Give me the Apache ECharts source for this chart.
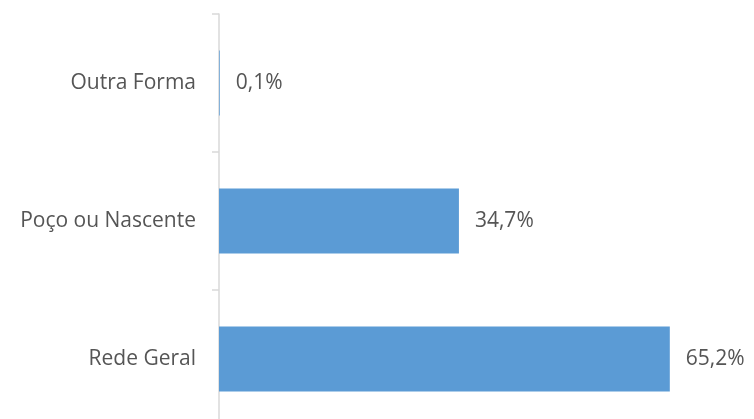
<!DOCTYPE html>
<html><head><meta charset="utf-8">
<script src="https://cdn.jsdelivr.net/npm/echarts@6/dist/echarts.min.js"></script>
<style>html,body{margin:0;padding:0;background:#fff}#c{width:754px;height:419px}</style>
</head><body><div id="c"></div>
<script>
const categories = ['Rede Geral', 'Poço ou Nascente', 'Outra Forma'];
const values = [65.2, 34.7, 0.1];
const labels = ['65,2%', '34,7%', '0,1%'];

const chart = echarts.init(document.getElementById('c'));
chart.setOption({
  animation: false,
  grid: { left: 219, top: 14, width: 484, height: 414, outerBoundsMode: 'none', containLabel: false },
  xAxis: { type: 'value', min: 0, max: 70, show: false },
  yAxis: {
    type: 'category', data: categories, offset: 2,
    axisLine: { lineStyle: { color: '#d9d9d9', width: 1.5 } },
    axisTick: { show: true, length: 7, lineStyle: { color: '#d9d9d9', width: 1.5 } },
    axisLabel: { margin: 21, color: '#555555', fontSize: 21, fontFamily: 'Open Sans' }
  },
  series: [{
    type: 'bar', data: values, barWidth: 65,
    itemStyle: { color: '#5b9bd5' },
    label: {
      show: true, position: 'right', distance: 16, color: '#555555',
      fontSize: 21, fontFamily: 'Open Sans',
      formatter: p => labels[p.dataIndex]
    }
  }]
});
</script></body></html>
